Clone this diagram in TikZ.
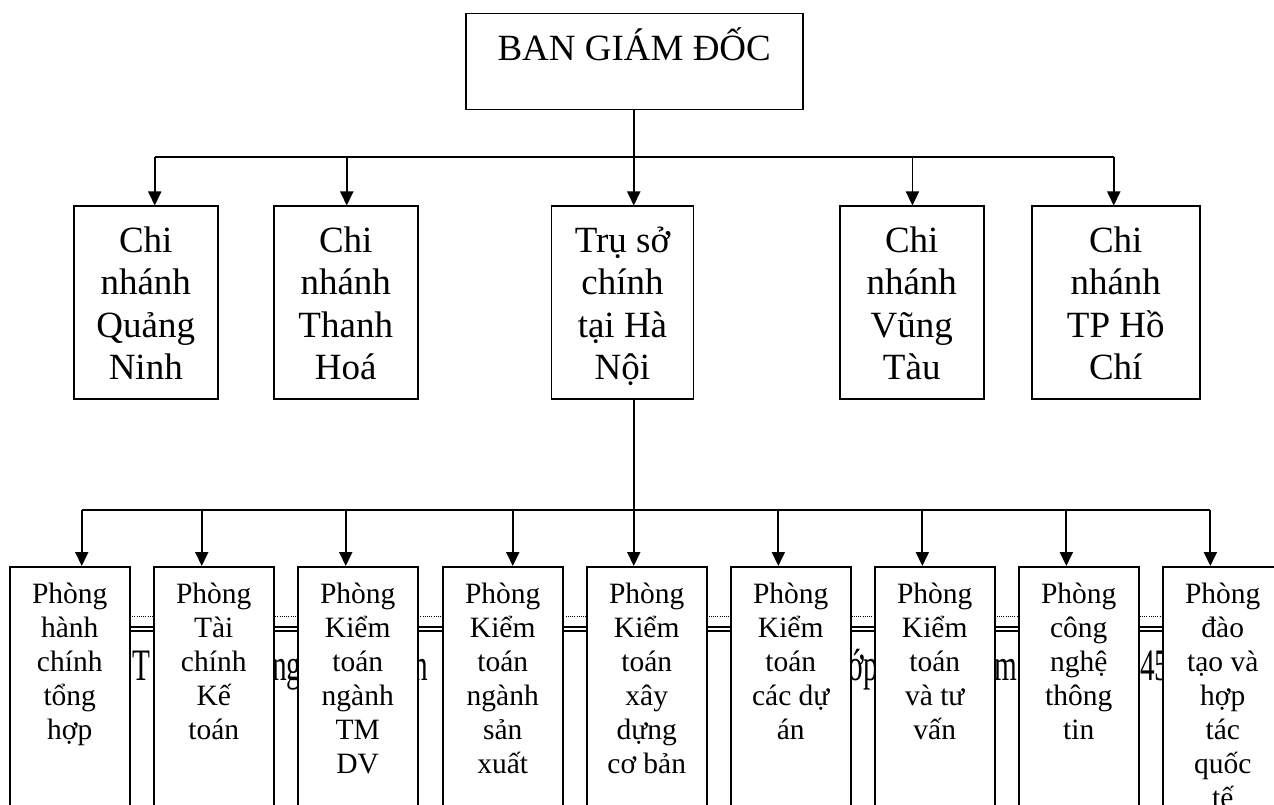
\documentclass[tikz,border=0pt]{standalone}
\usepackage{fontspec}
\setmainfont{Liberation Serif}
\usepackage{graphicx}
\usetikzlibrary{arrows.meta}
\newcommand{\toptxt}[1]{\fontsize{37}{42.5}\selectfont\lineskiplimit=-100pt\rule{0pt}{47pt}#1}
\newcommand{\midtxt}[1]{\fontsize{37}{42.5}\selectfont\lineskiplimit=-100pt\rule{0pt}{46pt}#1}
\newcommand{\bottxt}[1]{\fontsize{29.5}{34}\selectfont\lineskiplimit=-100pt\rule{0pt}{37pt}#1}
\newcommand{\midbox}[2]{\parbox[c][192.5pt][t]{#1}{\centering\midtxt{#2}}}
\newcommand{\botbox}[1]{\parbox[c][260pt][t]{120pt}{\centering\bottxt{#1}}}
\newcommand{\frag}[1]{\scalebox{0.65}[1]{#1}}
\tikzset{
  box/.style={draw, line width=1.5pt, fill=white, inner sep=0pt, anchor=north west},
  ln/.style={line width=1.6pt},
  arr/.style={line width=1.8pt, -{Triangle[length=14pt,width=13pt]}},
  bgt/.style={inner sep=0pt, anchor=base west, font=\fontsize{45}{50}\selectfont},
}
\begin{document}
\begin{tikzpicture}[x=1pt,y=-1pt]
\useasboundingbox (0,0) rectangle (1274,805);
\clip (0,0) rectangle (1274,805);
% background header lines and text fragments
\coordinate (hl) at (20,0);
\coordinate (hr) at (1274,0);
\draw[line width=0.8pt, dash pattern=on 1pt off 1.2pt] ([yshift=-616.5pt]hl) -- ([yshift=-616.5pt]hr);
\draw[line width=2pt] ([yshift=-627pt]hl) -- ([yshift=-627pt]hr);
\draw[line width=2pt] ([yshift=-631pt]hl) -- ([yshift=-631pt]hr);
\node[bgt] (f1) at (132,680) {\frag{T}};
\node[bgt] (f2) at (272,680) {\frag{ng}};
\node[bgt] (f3) at (413,680) {\frag{n}};
\node[bgt] (f4) at (848,680) {\frag{ớp}};
\node[bgt] (f5) at (994,680) {\frag{m}};
\node[bgt] (f6) at (1140,680) {\frag{45}};
% top box
\node[box] (gd) at (465,13) {\parbox[c][96pt][t]{337pt}{\centering\toptxt{BAN GIÁM ĐỐC}}};
% second row
\node[box] (qn) at (73,205.5) {\midbox{144pt}{Chi\\nhánh\\Quảng\\Ninh}};
\node[box] (th) at (273,205.5) {\midbox{144pt}{Chi\\nhánh\\Thanh\\Hoá}};
\node[box] (tru) at (550.7,205.5) {\midbox{142pt}{Trụ sở\\chính\\tại Hà\\Nội}};
\node[box] (vt) at (839,205.5) {\midbox{144pt}{Chi\\nhánh\\Vũng\\Tàu}};
\node[box] (hcm) at (1031,205.5) {\midbox{168pt}{Chi\\nhánh\\TP Hồ\\Chí}};
% third row
\node[box] (b1) at (9,566) {\botbox{Phòng\\hành\\chính\\tổng\\hợp}};
\node[box] (b2) at (153,566) {\botbox{Phòng\\Tài\\chính\\Kế\\toán}};
\node[box] (b3) at (297,566) {\botbox{Phòng\\Kiểm\\toán\\ngành\\TM\\DV}};
\node[box] (b4) at (442,566) {\botbox{Phòng\\Kiểm\\toán\\ngành\\sản\\xuất}};
\node[box] (b5) at (586,566) {\botbox{Phòng\\Kiểm\\toán\\xây\\dựng\\cơ bản}};
\node[box] (b6) at (730,566) {\botbox{Phòng\\Kiểm\\toán\\các dự\\án}};
\node[box] (b7) at (874,566) {\botbox{Phòng\\Kiểm\\toán\\và tư\\vấn}};
\node[box] (b8) at (1018,566) {\botbox{Phòng\\công\\nghệ\\thông\\tin}};
\node[box] (b9) at (1162,566) {\botbox{Phòng\\đào\\tạo và\\hợp\\tác\\quốc\\tế}};
% connectors, upper level
\coordinate (busA) at (633,157);
\coordinate (busB) at (633,510);
\draw[ln] (gd.south) -- (gd.south |- busA);
\draw[ln] ([xshift=9pt]qn.north |- busA) -- ([xshift=-2pt]hcm.north |- busA);
\foreach \n/\s in {qn/9,th/1,tru/11.3,vt/0.7,hcm/-2}
  \draw[arr] ([xshift=\s pt]\n.north |- busA) -- ([xshift=\s pt]\n.north);
% connectors, lower level
\draw[ln] ([xshift=11.3pt]tru.south) -- ([xshift=11.3pt]tru.south |- busB);
\draw[ln] ([xshift=12pt]b1.north |- busB) -- ([xshift=-12.4pt]b9.north |- busB);
\foreach \n/\s in {b1/12,b2/-12,b3/-12,b4/10,b5/-13,b6/-12.4,b7/-12.4,b8/-12.4,b9/-12.4}
  \draw[arr] ([xshift=\s pt]\n.north |- busB) -- ([xshift=\s pt]\n.north);
\end{tikzpicture}
\end{document}
